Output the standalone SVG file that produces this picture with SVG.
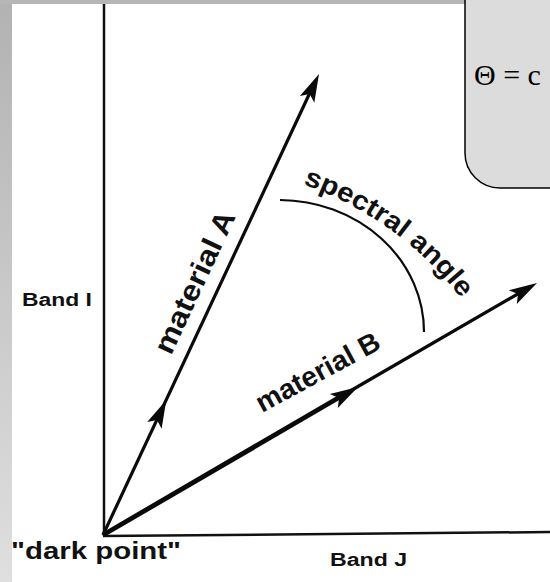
<svg xmlns="http://www.w3.org/2000/svg" width="550" height="582" viewBox="0 0 550 582">
<defs>
<linearGradient id="lg" x1="0" y1="0" x2="0" y2="1">
<stop offset="0" stop-color="#b2b2b2"/>
<stop offset="1" stop-color="#dfdfdf"/>
</linearGradient>
<path id="specPath" d="M303,184.4 A338,338 0 0 1 475,318"/>
<style>
.lbl{font-family:"Liberation Sans",Arial,sans-serif;fill:#111;}
.b{font-weight:bold;}
.ax{stroke:#111;stroke-width:2.5;fill:none;}
.vec{stroke:#0a0a0a;fill:none;stroke-linecap:butt;}
.head{fill:#0a0a0a;stroke:none;}
</style>
</defs>
<rect width="550" height="582" fill="#ffffff"/>
<rect x="0" y="0" width="12" height="582" fill="url(#lg)"/>
<rect x="0" y="0" width="550" height="4" fill="#b6b6b6"/>

<g id="connectors">
<line class="ax" x1="104" y1="4" x2="104" y2="536"/>
<line class="ax" x1="103" y1="536" x2="550" y2="532"/>
<path class="vec" d="M103,535 L314,84" stroke-width="3.2"/>
<polygon class="head" points="319,74 314.3,102.7 309.7,93.9 299.9,96"/>
<polygon class="head" points="166.3,400 161.6,428.8 157,419.9 147.2,422"/>
<path class="vec" d="M103,535 L345,394" stroke-width="4.8"/>
<path class="vec" d="M345,394 L528,288" stroke-width="3.2"/>
<polygon class="head" points="537,283 516.8,304 518,294 508.8,290.2"/>
<polygon class="head" points="358,386.9 337.8,407.9 339,397.9 329.8,394.1"/>
<path class="vec" d="M280,200 A145,132 0 0 1 424,332" stroke-width="2.2"/>
</g>

<g id="box">
<rect x="465" y="-40" width="130" height="228" rx="35" ry="35" fill="#dcdcdc" stroke="#000" stroke-width="1.5"/>
<text x="474" y="85" font-family="Liberation Serif,'Times New Roman',serif" font-size="30" fill="#000">Θ = c</text>
</g>

<g id="band-i"><text class="lbl b" x="22" y="306" font-size="18" textLength="70" lengthAdjust="spacingAndGlyphs">Band I</text></g>
<g id="band-j"><text class="lbl b" x="330" y="566" font-size="18" textLength="77" lengthAdjust="spacingAndGlyphs">Band J</text></g>
<g id="dark-point"><text class="lbl b" x="11" y="559" font-size="24" textLength="170" lengthAdjust="spacingAndGlyphs">"dark point"</text></g>
<g id="material-a"><text class="lbl b" font-size="29" transform="translate(171,356) rotate(-65)" textLength="154" lengthAdjust="spacingAndGlyphs">material A</text></g>
<g id="material-b"><text class="lbl b" font-size="28" transform="translate(262,413) rotate(-28.5)" textLength="137" lengthAdjust="spacingAndGlyphs">material B</text></g>
<g id="spectral-angle"><text class="lbl b" font-size="27"><textPath href="#specPath" textLength="198" lengthAdjust="spacingAndGlyphs">spectral angle</textPath></text></g>
</svg>
